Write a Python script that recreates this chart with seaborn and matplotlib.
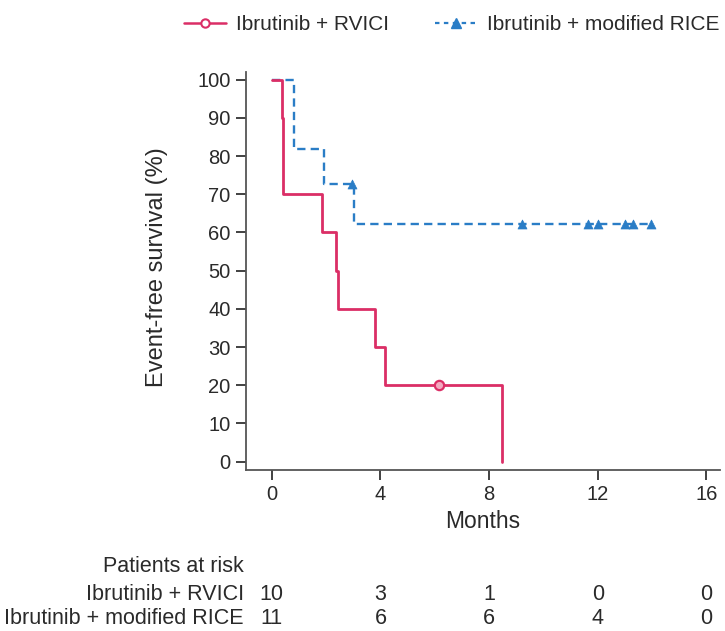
import matplotlib
matplotlib.use("Agg")
import matplotlib.pyplot as plt
from matplotlib.lines import Line2D
import seaborn as sns
import pandas as pd

# ---- data ----
groups = ["Ibrutinib + RVICI", "Ibrutinib + modified RICE"]
rvici_time = [0, 0.37, 0.43, 1.85, 2.38, 2.42, 3.79, 4.16, 8.48]
rvici_surv = [100, 90, 70, 60, 50, 40, 30, 20, 0]
rvici_cens_time = [6.16]
rvici_cens_surv = [20]

rice_time = [0, 0.8, 1.91, 3.02, 13.95]
rice_surv = [100, 81.8, 72.7, 62.3, 62.3]
rice_cens_time = [2.96, 9.2, 11.65, 12.0, 13.0, 13.3, 13.95]
rice_cens_surv = [72.7, 62.3, 62.3, 62.3, 62.3, 62.3, 62.3]

risk_times = [0, 4, 8, 12, 16]
risk_rvici = [10, 3, 1, 0, 0]
risk_rice = [11, 6, 6, 4, 0]

x_ticks = [0, 4, 8, 12, 16]
y_ticks = list(range(0, 101, 10))

red = "#DB2E66"
blue = "#2A7DC6"
txt = "#2a2a2a"

sns.set_theme(style="ticks")
plt.rcParams["font.family"] = ["Liberation Sans", "DejaVu Sans"]

FS = 14.5
fig = plt.figure(figsize=(7.25, 6.31), dpi=100)
ax = fig.add_axes([246/725, 161/631, (720-246)/725, (559-161)/631])

df_r = pd.DataFrame({"t": rvici_time, "s": rvici_surv})
df_b = pd.DataFrame({"t": rice_time, "s": rice_surv})

sns.lineplot(data=df_b, x="t", y="s", ax=ax, estimator=None, sort=False,
             drawstyle="steps-post", color=blue, lw=1.7, linestyle=(0, (3.5, 2.2)))
sns.lineplot(data=df_r, x="t", y="s", ax=ax, estimator=None, sort=False,
             drawstyle="steps-post", color=red, lw=2.0)

sns.scatterplot(x=rice_cens_time, y=rice_cens_surv, ax=ax, marker="^",
                color=blue, s=42, edgecolor=blue, linewidth=0.5, zorder=5)
sns.scatterplot(x=rvici_cens_time, y=rvici_cens_surv, ax=ax, marker="o",
                facecolor="#F3A9C0", edgecolor=red, s=45, linewidth=1.6, zorder=5)

ax.set_xlim(-0.95, 16.5)
ax.set_ylim(-2.2, 102)
ax.set_xticks(x_ticks)
ax.set_yticks(y_ticks)
ax.tick_params(axis="both", direction="out", length=7, width=1.3, pad=4,
               labelsize=FS, color="#333333", labelcolor=txt)
for sp in ["top", "right"]:
    ax.spines[sp].set_visible(False)
for sp in ["left", "bottom"]:
    ax.spines[sp].set_linewidth(1.3)
    ax.spines[sp].set_color("#555555")
ax.set_xlabel("Months", fontsize=16.5, color=txt)
ax.set_ylabel("Event-free survival (%)", fontsize=17, color=txt)
ax.xaxis.set_label_coords(0.5, (470-522)/398)
ax.xaxis.label.set_va("center")
ax.yaxis.set_label_coords((157-246)/474, 0.509)
ax.yaxis.label.set_va("center")

# legend
handles = [
    Line2D([], [], color=red, lw=1.8, marker="o", markerfacecolor="white",
           markeredgecolor=red, markersize=6, markeredgewidth=1.5),
    Line2D([], [], color=blue, lw=1.6, linestyle=(0, (2, 2)), marker="^",
           markersize=7),
]
fig.legend(handles, groups, loc="center left", bbox_to_anchor=(184/725, 1 - 25/631),
           ncol=2, frameon=False, fontsize=15, handlelength=2.0, columnspacing=2.2,
           handletextpad=0.5, borderpad=0, borderaxespad=0, labelcolor=txt)

# risk table
def xfig(v):
    return ax.transData.transform((v, 0))[0] / fig.dpi / fig.get_figwidth()

TFS = 15.5
lab_x = 244/725
fig.text(lab_x, 1 - 566/631, "Patients at risk", ha="right", va="center", fontsize=TFS, color=txt)
rows = [(risk_rvici, 595), (risk_rice, 618)]
for name, (vals, ypix) in zip(groups, rows):
    fig.text(lab_x, 1 - ypix/631, name, ha="right", va="center", fontsize=TFS, color=txt)
    for t, v in zip(risk_times, vals):
        fig.text(xfig(t), 1 - ypix/631, str(v), ha="center", va="center", fontsize=TFS, color=txt)

fig.savefig("out.png", dpi=100)
